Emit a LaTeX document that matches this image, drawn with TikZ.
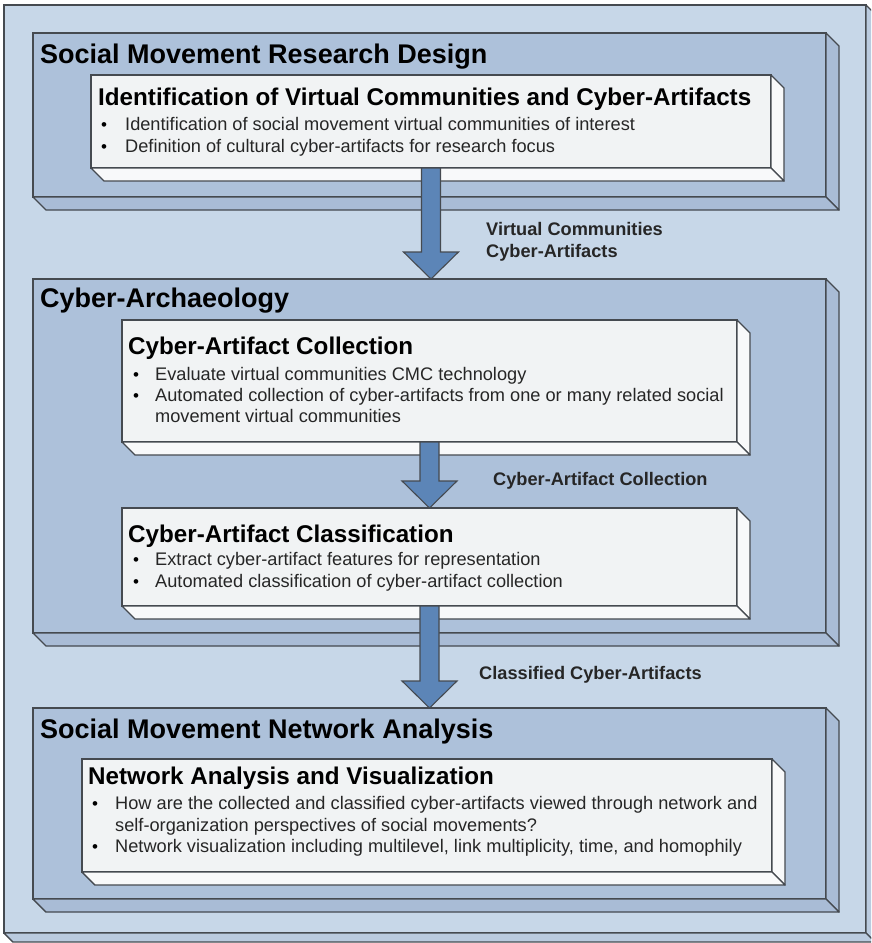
\documentclass[tikz,border=0pt]{standalone}
\usepackage{fontspec}
\setmainfont{Liberation Sans}
\usetikzlibrary{calc}
\definecolor{outerbg}{HTML}{C7D7E8}
\definecolor{outerside}{HTML}{BACBDF}
\definecolor{boxbg}{HTML}{ADC1DA}
\definecolor{boxside}{HTML}{A9BCD6}
\definecolor{cardbg}{HTML}{F1F3F4}
\definecolor{cardside}{HTML}{F8F9FA}
\definecolor{edge}{HTML}{454A50}
\definecolor{arrowfill}{HTML}{5C85B7}
\newcommand{\slab}[8]{%
  \node[face,fill=#7,minimum width={(#4-#2)*1pt},minimum height={(#5-#3)*1pt}] (#1) at (#2,#3) {};
  \path[side,fill=#8] (#1.north east) -- ++(#6,#6) -- ($(#1.south east)+(#6,#6)$) -- (#1.south east) -- cycle;
  \path[side,fill=#8] (#1.south west) -- (#1.south east) -- ($(#1.south east)+(#6,#6)$) -- ($(#1.south west)+(#6,#6)$) -- cycle;
}
\newcommand{\flowarrow}[2]{%
  \draw[flow] ($(#1.south)+(-9.5,0)$) -- ($(#1.south |- #2.north)+(-9.5,-27)$) -- ++(-18,0)
    -- (#1.south |- #2.north) -- ++(27.5,-27) -- ++(-18,0) -- ($(#1.south)+(9.5,0)$) -- cycle;
}
\begin{document}
\begin{tikzpicture}[x=1pt,y=-1pt,
  face/.style={draw=edge,line width=1.4pt,inner sep=0pt,outer sep=0pt,anchor=north west},
  side/.style={draw=edge,line width=1.4pt,line join=round},
  ttl/.style={anchor=base west,inner sep=0pt,font=\fontsize{27}{32}\selectfont\bfseries},
  sub/.style={anchor=base west,inner sep=0pt,font=\fontsize{24.2}{28}\selectfont\bfseries},
  item/.style={anchor=base west,inner sep=0pt,font=\fontsize{18.2}{22}\selectfont,text=black!85},
  dot/.style={anchor=base west,inner sep=0pt,font=\fontsize{17}{22}\selectfont},
  lbl/.style={anchor=base west,inner sep=0pt,font=\fontsize{18.2}{22}\selectfont\bfseries,text=black!85},
  flow/.style={draw=edge,line width=1.1pt,fill=arrowfill,line join=miter}]
\useasboundingbox (0,0) rectangle (871,943);
\clip (0,0) rectangle (871,943);
% outer frame
\slab{outer}{4}{5}{866}{933}{9}{outerbg}{outerside}
% main slabs and cards
\slab{design}{33}{33}{826}{197}{13}{boxbg}{boxside}
\slab{ident}{91}{75}{771}{168}{13}{cardbg}{cardside}
\slab{archaeo}{33}{279}{826}{633}{13}{boxbg}{boxside}
\slab{collect}{122}{320}{737}{442}{13}{cardbg}{cardside}
\slab{classify}{122}{508}{737}{606}{13}{cardbg}{cardside}
\slab{network}{33}{708}{826}{899}{13}{boxbg}{boxside}
\slab{netviz}{82}{759}{772}{872}{13}{cardbg}{cardside}
% arrows
\flowarrow{ident}{archaeo}
\flowarrow{collect}{classify}
\flowarrow{classify}{network}
% texts: design
\node[ttl] (t1) at (40,63) {Social Movement Research Design};
\node[sub] (s1) at (98,105) {Identification of Virtual Communities and Cyber-Artifacts};
\node[dot] (d11) at (101,130) {•};
\node[item] (b11) at (125,130) {Identification of social movement virtual communities of interest};
\node[dot] (d12) at (101,152) {•};
\node[item] (b12) at (125,152) {Definition of cultural cyber-artifacts for research focus};
\node[lbl] (l1a) at (486,235) {Virtual Communities};
\node[lbl] (l1b) at (486,257) {Cyber-Artifacts};
% archaeology
\node[ttl] (t2) at (40,307) {Cyber-Archaeology};
\node[sub] (s2) at (128,354) {Cyber-Artifact Collection};
\node[dot] (d21) at (133,380) {•};
\node[item] (b21) at (155,380) {Evaluate virtual communities CMC technology};
\node[dot] (d22) at (133,401) {•};
\node[item] (b22) at (155,401) {Automated collection of cyber-artifacts from one or many related social};
\node[item] (b22b) at (155,422) {movement virtual communities};
\node[lbl] (l2) at (493,485) {Cyber-Artifact Collection};
\node[sub] (s3) at (128,542) {Cyber-Artifact Classification};
\node[dot] (d31) at (133,565) {•};
\node[item] (b31) at (155,565) {Extract cyber-artifact features for representation};
\node[dot] (d32) at (133,587) {•};
\node[item] (b32) at (155,587) {Automated classification of cyber-artifact collection};
\node[lbl] (l3) at (479,679) {Classified Cyber-Artifacts};
% network
\node[ttl] (t3) at (40,738) {Social Movement Network Analysis};
\node[sub] (s4) at (88,784) {Network Analysis and Visualization};
\node[dot] (d41) at (92,809) {•};
\node[item] (b41) at (115,809) {How are the collected and classified cyber-artifacts viewed through network and};
\node[item] (b41b) at (115,831) {self-organization perspectives of social movements?};
\node[dot] (d42) at (92,852) {•};
\node[item] (b42) at (115,852) {Network visualization including multilevel, link multiplicity, time, and homophily};
\end{tikzpicture}
\end{document}
